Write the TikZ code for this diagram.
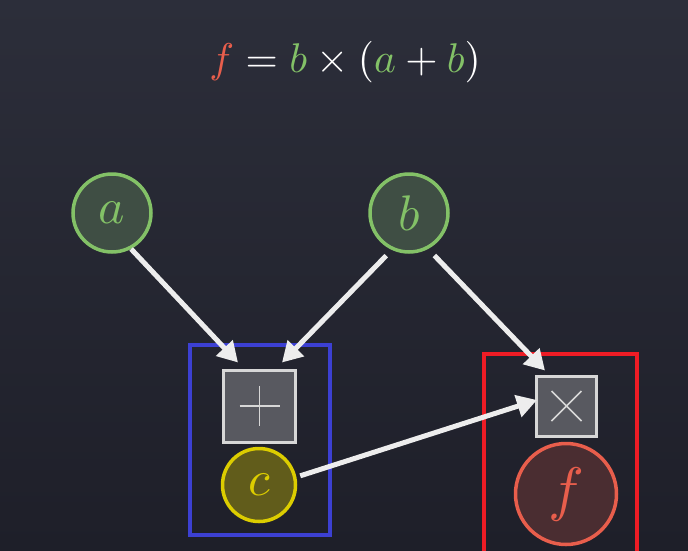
\documentclass[tikz,border=0pt]{standalone}
\usepackage{graphicx}
\usetikzlibrary{arrows.meta,calc}
\definecolor{bgtop}{RGB}{44,46,58}
\definecolor{bgbot}{RGB}{30,31,41}
\definecolor{mgreen}{RGB}{131,193,103}
\definecolor{mred}{RGB}{232,94,76}
\definecolor{myellow}{RGB}{220,205,0}
\definecolor{boxgray}{RGB}{88,89,96}
\definecolor{boxedge}{RGB}{215,215,215}
\definecolor{rblue}{RGB}{60,64,210}
\definecolor{rred}{RGB}{238,28,37}
\newcommand{\bigletter}[2][5]{\scalebox{#1}{$#2$}}
\tikzset{
  x=1pt, y=-1pt,
  varnode/.style={circle, line width=3.5pt, inner sep=0pt},
  greennode/.style={varnode, draw=mgreen, fill=mgreen!22!bgtop, text=mgreen, minimum size=78pt},
  opbox/.style={rectangle, draw=boxedge, fill=boxgray, line width=3pt, inner sep=0pt, text=boxedge},
  flow/.style={draw=white!93!black, line width=5pt, -{Triangle[length=20pt,width=22pt]}},
  groupbox/.style={line width=4pt},
}
\begin{document}
\begin{tikzpicture}
\useasboundingbox (0,0) rectangle (688,550);
\shade[top color=bgtop, bottom color=bgbot] (0,0) rectangle (688,550);

\node[text=white, inner sep=0pt] (title) at (345,62)
  {\scalebox{4.15}{$\color{mred}f\color{white} = \color{mgreen}b\color{white}\times(\color{mgreen}a\color{white}+\color{mgreen}b\color{white})$}};

\node[greennode] (a) at (112,213) {\bigletter{a}};
\node[greennode] (b) at (409,213) {\bigletter{b}};
\node[opbox, minimum size=72pt] (plus) at (259.5,406) {};
\node[varnode, draw=myellow, fill=myellow!35!bgbot, text=myellow, minimum size=73pt] (c) at (259,485) {\bigletter{c}};
\node[opbox, minimum size=60pt] (times) at (566.5,406) {};
\node[varnode, draw=mred, fill=mred!22!bgbot, text=mred, minimum size=101pt] (f) at (566,494) {\bigletter[6]{f}};

% operator glyphs
\draw[boxedge, line width=1.6pt] ($(plus.center)+(-20,0)$) -- ($(plus.center)+(20,0)$)
  ($(plus.center)+(0,-20)$) -- ($(plus.center)+(0,20)$);
\draw[boxedge, line width=1.6pt] ($(times.center)+(-15,-15)$) -- ($(times.center)+(15,15)$)
  ($(times.center)+(-15,15)$) -- ($(times.center)+(15,-15)$);

\draw[groupbox, rblue] (190,345) rectangle (330,535);
\draw[groupbox, rred] (484,354) rectangle (637,560);

\draw[flow] (a.-62) -- ([shift={(16,-6)}]plus.north west);
\draw[flow, shorten <=8pt] (b.-115) -- ([shift={(-15,-6)}]plus.north east);
\draw[flow, shorten <=9pt] (b.-62) -- ([shift={(10,-4)}]times.north west);
\draw[flow, shorten <=4pt] (c.12) -- ([shift={(2,-6)}]times.west);
\end{tikzpicture}
\end{document}
